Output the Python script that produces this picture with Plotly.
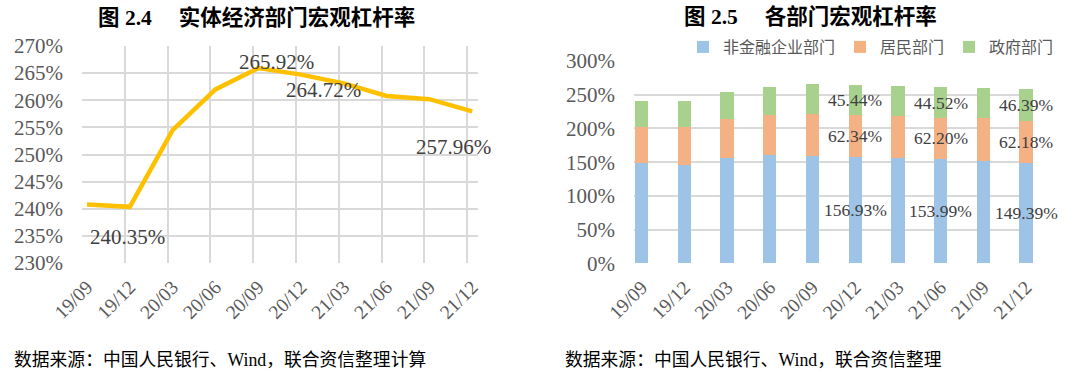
import plotly.graph_objects as go

# ---- data ----
periods = ["19/09", "19/12", "20/03", "20/06", "20/09", "20/12", "21/03", "21/06", "21/09", "21/12"]
real_economy = [240.8, 240.35, 254.5, 262.0, 265.92, 264.72, 263.1, 260.8, 260.2, 257.96]
corporate = [148.3, 146.0, 156.6, 160.2, 159.6, 156.93, 156.6, 153.99, 152.2, 149.39]
household = [54.3, 56.3, 57.9, 59.3, 61.8, 62.34, 62.3, 62.20, 62.8, 62.18]
government = [38.2, 38.0, 40.0, 42.5, 44.5, 45.44, 44.2, 44.52, 45.2, 46.39]
series_names = ["非金融企业部门", "居民部门", "政府部门"]
left_label_idx = [1, 4, 5, 9]
right_label_idx = [5, 7, 9]

SERIF = "Liberation Serif, 'Noto Sans CJK SC', serif"
GRID = "#D9D9D9"
TICK = "#595959"
LABEL = "#404040"

idx = list(range(len(periods)))
W, H = 1080, 376

fig = go.Figure()

# left: line chart
fig.add_trace(go.Scatter(
    x=idx, y=real_economy, mode="lines",
    line=dict(color="#FFC000", width=4.5),
    showlegend=False, xaxis="x", yaxis="y", hoverinfo="skip"))

# right: stacked bars
colors = ["#9DC3E6", "#F4B183", "#A9D18E"]
for name, vals, c in zip(series_names, [corporate, household, government], colors):
    fig.add_trace(go.Bar(
        x=idx, y=vals, name=name, marker=dict(color=c, line=dict(width=0)),
        width=0.31, xaxis="x2", yaxis="y2"))

annotations = []
# left labels
left_shifts = {1: (-2, -30), 4: (18, 6), 5: (22, -15), 9: (-19, -36)}
for i in left_label_idx:
    dx, dy = left_shifts[i]
    annotations.append(dict(
        x=i, y=real_economy[i], xref="x", yref="y",
        text=f"{real_economy[i]:.2f}%", showarrow=False,
        xshift=dx, yshift=dy, font=dict(family=SERIF, size=21, color=LABEL)))

# right labels, centred in each segment
for i in right_label_idx:
    base = 0
    for vals in [corporate, household, government]:
        annotations.append(dict(
            x=i, y=base + vals[i] / 2, xref="x2", yref="y2",
            text=f"{vals[i]:.2f}%", showarrow=False,
            font=dict(family=SERIF, size=17.5, color=LABEL)))
        base += vals[i]

# titles
annotations.append(dict(x=256 / W, y=1 - 17 / H, xref="paper", yref="paper",
                        text="<b>图 2.4\u3000 实体经济部门宏观杠杆率</b>", showarrow=False,
                        xanchor="center", yanchor="middle",
                        font=dict(family=SERIF, size=21.5, color="#000000")))
annotations.append(dict(x=810 / W, y=1 - 17 / H, xref="paper", yref="paper",
                        text="<b>图 2.5\u3000 各部门宏观杠杆率</b>", showarrow=False,
                        xanchor="center", yanchor="middle",
                        font=dict(family=SERIF, size=21.5, color="#000000")))
# footers
annotations.append(dict(x=12 / W, y=1 - 360 / H, xref="paper", yref="paper",
                        text="数据来源：中国人民银行、Wind，联合资信整理计算", showarrow=False,
                        xanchor="left", yanchor="middle",
                        font=dict(family=SERIF, size=17.8, color="#000000")))
annotations.append(dict(x=563 / W, y=1 - 360 / H, xref="paper", yref="paper",
                        text="数据来源：中国人民银行、Wind，联合资信整理", showarrow=False,
                        xanchor="left", yanchor="middle",
                        font=dict(family=SERIF, size=17.8, color="#000000")))

fig.update_layout(
    width=W, height=H,
    margin=dict(l=0, r=0, t=0, b=0, autoexpand=False),
    paper_bgcolor="white", plot_bgcolor="white",
    barmode="stack",
    annotations=annotations,
    legend=dict(orientation="h", x=871 / W, xanchor="center", y=1 - 47 / H, yanchor="middle",
                font=dict(family=SERIF, size=16, color=TICK), bgcolor="rgba(0,0,0,0)",
                itemwidth=30, tracegroupgap=0, traceorder="normal"),
    xaxis=dict(domain=[82 / W, 478 / W], range=[-0.117, 9.135],
               tickmode="array", tickvals=idx, ticktext=periods, tickangle=-45,
               showgrid=False, zeroline=False, showline=False, ticks="",
               ticklabelstandoff=8, automargin=False,
               tickfont=dict(family=SERIF, size=19.5, color=TICK),
               minor=dict(showgrid=True, gridcolor=GRID, gridwidth=1.5,
                          tickmode="linear", tick0=-0.117, dtick=1, ticks=""),
               anchor="y", fixedrange=True),
    yaxis=dict(domain=[1 - 263 / H, 1 - 46 / H], range=[230, 270],
               tickmode="array", tickvals=list(range(230, 271, 5)),
               ticktext=[f"{v}%" for v in range(230, 271, 5)],
               showgrid=True, gridcolor=GRID, gridwidth=1.5, zeroline=False,
               showline=False, ticks="", ticklabelstandoff=18, automargin=False,
               tickfont=dict(family=SERIF, size=21, color=TICK),
               anchor="x", fixedrange=True),
    xaxis2=dict(domain=[634 / W, 1033 / W], range=[-0.18, 9.164],
                tickmode="array", tickvals=idx, ticktext=periods, tickangle=-45,
                showgrid=False, zeroline=False, showline=False, ticks="",
                ticklabelstandoff=8, automargin=False,
                tickfont=dict(family=SERIF, size=19.5, color=TICK),
                anchor="y2", fixedrange=True),
    yaxis2=dict(domain=[1 - 263.3 / H, 1 - 61 / H], range=[0, 300],
                tickmode="array", tickvals=list(range(0, 301, 50)),
                ticktext=[f"{v}%" for v in range(0, 301, 50)],
                showgrid=True, gridcolor=GRID, gridwidth=1.5, zeroline=False,
                showline=False, ticks="", ticklabelstandoff=18, automargin=False,
                tickfont=dict(family=SERIF, size=21, color=TICK),
                anchor="x2", fixedrange=True),
)

fig.write_html("out.html", config={"displayModeBar": False},
               post_script="document.body.style.margin='0';document.body.style.overflow='hidden';")
